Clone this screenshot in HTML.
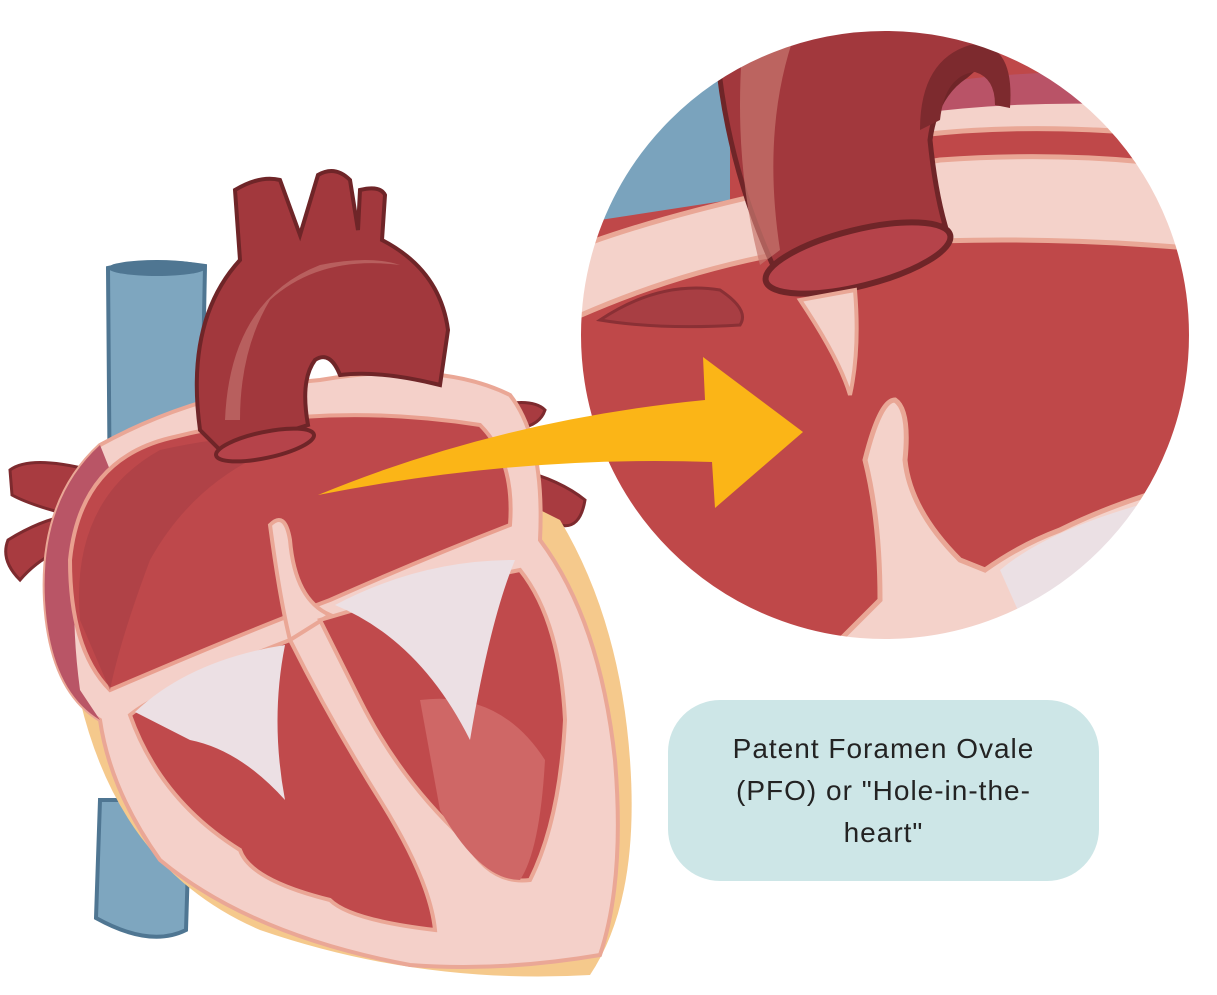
<!DOCTYPE html>
<html><head><meta charset="utf-8"><style>
html,body{margin:0;padding:0;background:#fff;width:1217px;height:995px;overflow:hidden}
.box{position:absolute;left:668px;top:700px;width:431px;height:181px;border-radius:52px;background:#cde6e7;
font-family:"Liberation Sans",sans-serif;font-size:28px;color:#232323;text-align:center;line-height:42px;letter-spacing:1px;
display:flex;align-items:center;justify-content:center}
</style></head><body>
<svg width="1217" height="995" style="position:absolute;left:0;top:0" xmlns="http://www.w3.org/2000/svg">
<defs><clipPath id="cc"><circle cx="885" cy="335" r="305"/></clipPath></defs>
<path d="M108 268 Q155 258 205 266 L200 520 L110 520 Z" fill="#7ea6bf" stroke="#4f7692" stroke-width="4"/>
<ellipse cx="157" cy="268" rx="49" ry="8" fill="#4f7692"/>
<path d="M100 800 L190 800 L186 930 Q150 948 96 918 Z" fill="#7ea6bf" stroke="#4f7692" stroke-width="4"/>
<path d="M10 470 Q30 455 90 470 L100 540 Q50 545 20 580 Q0 560 8 540 Q40 520 70 515 Q30 505 12 495 Z" fill="#a83b40" stroke="#7d2a2e" stroke-width="3"/>
<path d="M480 410 Q530 395 545 410 Q540 425 520 428 L520 470 Q560 480 585 500 Q580 530 560 525 L520 510 Z" fill="#a83b40" stroke="#7d2a2e" stroke-width="3"/>
<path d="M80 700 Q120 870 260 930 Q420 985 590 975 Q640 900 630 760 Q620 620 560 520 L520 500 L80 690 Z" fill="#f5c98c"/>
<path d="M45 600 Q40 500 100 445 Q200 390 320 380 Q440 360 510 395 Q545 440 540 540 Q600 620 615 760 Q625 880 600 955 Q500 972 410 965 Q250 935 160 860 Q110 790 100 720 Q50 690 45 600 Z" fill="#f4d0c9" stroke="#eaa796" stroke-width="4"/>
<path d="M45 600 Q40 500 100 445 L110 470 Q60 540 80 690 L100 720 Q50 690 45 600Z" fill="#b95566"/>
<path d="M70 560 Q80 460 170 438 Q320 400 480 425 Q515 460 510 525 Q420 560 330 600 Q250 630 110 690 Q70 650 70 560 Z" fill="#be484b" stroke="#e9a090" stroke-width="4"/>
<path d="M80 620 Q70 500 160 450 Q250 430 300 440 Q200 470 150 560 Q120 640 110 690 Z" fill="#a73f44" opacity=".6"/>
<path d="M270 525 Q285 510 290 540 Q295 600 330 615 L290 640 Q280 600 270 525 Z" fill="#f4d0c9" stroke="#eaa796" stroke-width="4"/>
<path d="M130 715 Q160 690 290 640 Q330 720 380 800 Q430 880 435 930 Q350 920 330 900 Q250 880 240 850 Q160 800 130 715 Z" fill="#c04a4c" stroke="#eaa796" stroke-width="4"/>
<path d="M320 620 Q420 590 520 570 Q560 620 565 720 Q560 820 530 880 Q490 885 465 840 Q400 780 360 700 Z" fill="#c04a4c" stroke="#eaa796" stroke-width="4"/>
<path d="M420 700 Q500 690 545 760 Q540 850 520 880 Q480 880 440 810 Z" fill="#cf6766"/>
<path d="M135 712 Q190 660 285 645 Q270 720 285 800 Q240 750 190 740 Z" fill="#ece0e4"/>
<path d="M335 605 Q420 560 515 560 Q490 620 470 740 Q420 640 335 605 Z" fill="#ece0e4"/>
<path d="M200 430 Q185 320 240 260 L235 190 Q260 175 280 180 L300 235 L318 175 Q335 165 350 180 L358 230 L360 190 Q380 185 385 195 L382 240 Q440 270 448 330 L440 385 Q380 370 340 375 Q330 350 315 360 Q300 380 308 425 Q260 440 225 455 Z" fill="#a2383d" stroke="#6f2528" stroke-width="4"/>
<path d="M225 420 Q230 300 320 265 Q370 255 400 265 Q320 255 270 300 Q240 350 240 420Z" fill="#c77a74" opacity=".6"/>
<ellipse cx="265" cy="445" rx="50" ry="13" transform="rotate(-12 265 445)" fill="#b5434a" stroke="#6f2528" stroke-width="4"/>
<g clip-path="url(#cc)">
<rect x="570" y="20" width="640" height="640" fill="#bf4849"/>
<path d="M570 20 L730 20 L730 200 L600 220 L570 260 Z" fill="#7aa3bd"/>
<path d="M570 250 Q700 200 940 160 Q1080 150 1210 170 L1210 250 Q1000 230 800 250 Q680 270 570 320 Z" fill="#f4d2ca" stroke="#e9a796" stroke-width="5"/>
<path d="M900 110 Q1050 90 1210 110 L1210 140 Q1050 120 920 135 Z" fill="#f4d2ca" stroke="#e9a796" stroke-width="5"/>
<path d="M900 90 Q1050 60 1210 80 L1210 110 Q1050 95 905 115 Z" fill="#b95367"/>
<path d="M715 20 L1000 20 Q990 60 960 80 Q935 100 930 140 Q935 190 945 225 Q880 240 775 270 Q720 150 715 20 Z" fill="#a2383d" stroke="#6f2528" stroke-width="5"/>
<path d="M940 120 Q945 75 975 72 Q995 78 995 105 L1010 108 Q1015 40 970 45 Q920 60 920 130 Z" fill="#7d2a2e"/>
<path d="M745 20 L800 20 Q760 120 780 250 L760 265 Q730 150 745 20 Z" fill="#c7776f" opacity=".7"/>
<ellipse cx="858" cy="258" rx="95" ry="28" transform="rotate(-14 858 258)" fill="#b5434a" stroke="#6f2528" stroke-width="6"/>
<path d="M800 300 Q840 360 850 395 Q860 350 855 290 Z" fill="#f4d2ca" stroke="#e9a796" stroke-width="4"/>
<path d="M865 460 Q880 400 895 400 Q910 410 905 460 Q910 510 960 560 L985 570 Q1020 545 1060 530 Q1120 500 1200 480 L1200 660 L820 660 L880 600 Q880 520 865 460 Z" fill="#f4d2ca" stroke="#e9a796" stroke-width="5"/>
<path d="M1000 570 Q1060 520 1200 490 L1200 660 L1040 660 Z" fill="#ebe0e4"/>
<path d="M600 320 Q660 280 720 290 Q750 310 740 325 Q660 330 600 320 Z" fill="#a83e43" stroke="#8a3035" stroke-width="3"/>
</g>
<circle cx="885" cy="335" r="305" fill="none" stroke="#fff" stroke-width="2"/>
<path d="M318 495 Q500 420 705 400 L703 357 L803 432 L715 508 L712 462 Q520 455 318 495 Z" fill="#fbb517"/>
</svg>
<div class="box"><div>Patent Foramen Ovale<br>(PFO) or "Hole-in-the-<br>heart"</div></div>
</body></html>
